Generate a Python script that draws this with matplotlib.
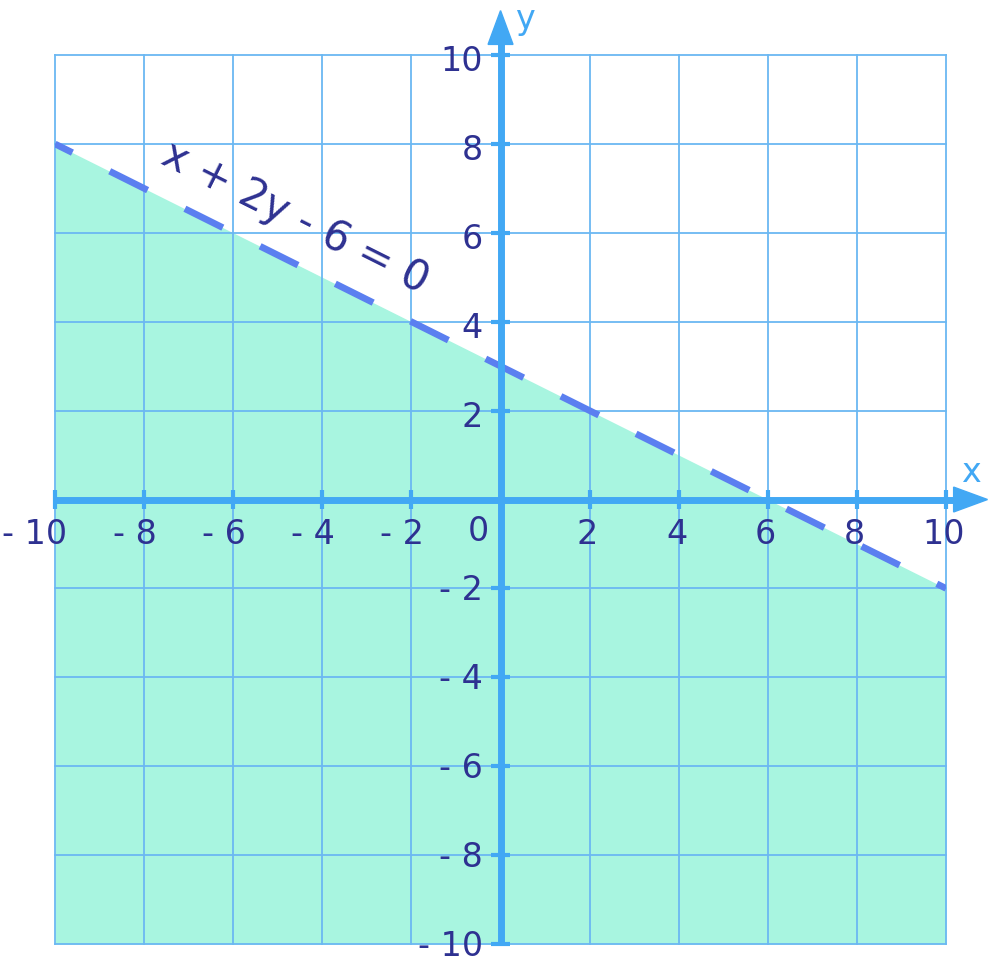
import numpy as np
import matplotlib.pyplot as plt
from matplotlib.patches import Polygon

plt.rcParams["lines.scale_dashes"] = False

# data
ticks = [-10, -8, -6, -4, -2, 2, 4, 6, 8, 10]
line_x = [-10, 10]
line_y = [8, -2]          # x + 2y - 6 = 0  ->  y = (6 - x) / 2
equation = "x + 2y - 6 = 0"

TEXT = "#2e3191"
AXIS = "#42a8f4"
GRID = "#6bb8f2"
FILL = "#a8f5e0"
DASH = "#5b7ff0"

fig = plt.figure(figsize=(9.97, 9.61), dpi=100)
ax = fig.add_axes([0.0552, 0.0177, 0.8937, 0.925])
ax.set_xlim(-10, 10)
ax.set_ylim(-10, 10)
ax.set_axis_off()

# shaded half-plane
ax.fill_between(line_x, line_y, -10, color=FILL, zorder=1, linewidth=0)

# grid
for g in range(-10, 11, 2):
    ax.plot([g, g], [-10, 10], color=GRID, lw=1.3, zorder=2, clip_on=False)
    ax.plot([-10, 10], [g, g], color=GRID, lw=1.3, zorder=2, clip_on=False)

# boundary line (dashed = strict inequality), dash lengths in points
ax.plot(line_x, line_y, color=DASH, lw=4.8, linestyle=(16.5, (30.5, 30.0)),
        zorder=3, dash_capstyle="butt")

# axes with arrows
ax.plot([-10, 10.2], [0, 0], color=AXIS, lw=5, zorder=4, clip_on=False,
        solid_capstyle="butt")
ax.plot([0, 0], [-10, 10.25], color=AXIS, lw=5, zorder=4, clip_on=False,
        solid_capstyle="butt")
ax.add_patch(Polygon([[10.17, 0.28], [10.93, 0], [10.17, -0.28]],
                     closed=True, color=AXIS, zorder=4, clip_on=False))
ax.add_patch(Polygon([[-0.28, 10.24], [0, 11.0], [0.28, 10.24]],
                     closed=True, color=AXIS, zorder=4, clip_on=False))

tl = 0.22
for t in ticks:
    ax.plot([t, t], [-tl, tl], color=AXIS, lw=3, zorder=4, clip_on=False,
            solid_capstyle="butt")
    ax.plot([-tl, tl], [t, t], color=AXIS, lw=3, zorder=4, clip_on=False,
            solid_capstyle="butt")

# tick labels
fs = 24
for t in ticks:
    if t < 0:
        ax.text(t + 0.28, -0.78, f"- {abs(t)}", ha="right", va="center",
                fontsize=fs, color=TEXT, zorder=5, clip_on=False)
        ax.text(-0.4, t - 0.05, f"- {abs(t)}", ha="right", va="center",
                fontsize=fs, color=TEXT, zorder=5, clip_on=False)
    else:
        ax.text(t - 0.05, -0.78, str(t), ha="center", va="center",
                fontsize=fs, color=TEXT, zorder=5, clip_on=False)
        ax.text(-0.4, t - 0.15, str(t), ha="right", va="center",
                fontsize=fs, color=TEXT, zorder=5, clip_on=False)
ax.text(-0.5, -0.72, "0", ha="center", va="center", fontsize=fs,
        color=TEXT, zorder=5)

ax.text(0.55, 10.8, "y", ha="center", va="center", fontsize=24,
        color=AXIS, clip_on=False)
ax.text(10.55, 0.6, "x", ha="center", va="center", fontsize=24,
        color=AXIS, clip_on=False)

# equation label along the line
ang = np.degrees(np.arctan2(line_y[1] - line_y[0], line_x[1] - line_x[0]))
ax.text(-4.6, 6.35, equation, ha="center", va="center", fontsize=30,
        color=TEXT, rotation=ang, rotation_mode="anchor", zorder=5)

fig.savefig("out.png", dpi=100)
